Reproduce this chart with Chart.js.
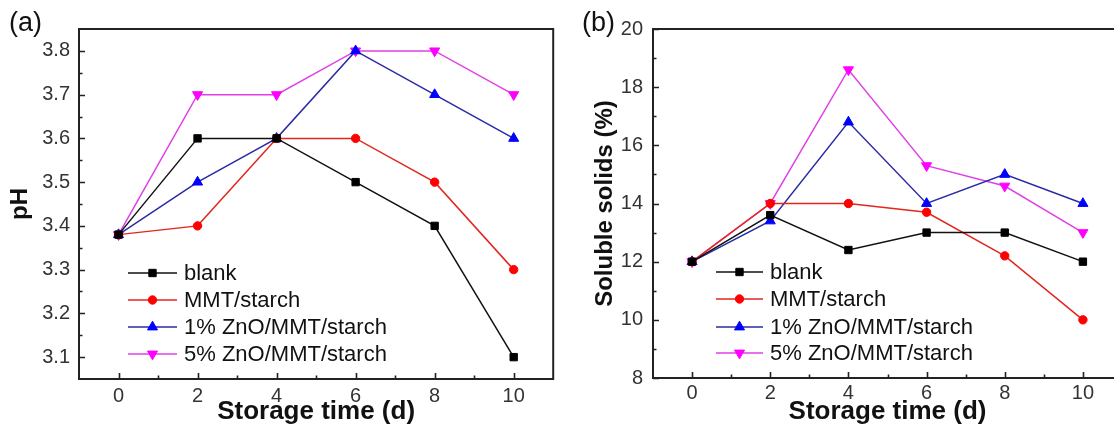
<!DOCTYPE html>
<html>
<head>
<meta charset="utf-8">
<script src="https://cdn.jsdelivr.net/npm/chart.js@4.4.1/dist/chart.umd.min.js"></script>
<style>
  html, body { margin: 0; padding: 0; background: #fff; overflow: hidden; }
  #wrap { position: relative; width: 1114px; height: 428px; overflow: hidden; }
  .panel { position: absolute; top: 0; height: 428px; }
  #pa { left: 0; width: 560px; }
  #pb { left: 560px; width: 600px; }
  .lab { position: absolute; top: 5px; font-family: "Liberation Sans", Arial, sans-serif; font-size: 27px; color: #111; line-height: 34px; }
</style>
</head>
<body>
<div id="wrap">
  <div class="panel" id="pa"><canvas id="ca"></canvas></div>
  <div class="panel" id="pb"><canvas id="cb"></canvas></div>
  <div class="lab" style="left:9px;">(a)</div>
  <div class="lab" style="left:582px;">(b)</div>
</div>
<script>
// ---------- data ----------
const days = [0, 2, 4, 6, 8, 10];
const seriesNames = ['blank', 'MMT/starch', '1% ZnO/MMT/starch', '5% ZnO/MMT/starch'];

const phBlank = [3.38, 3.6, 3.6, 3.5, 3.4, 3.1];
const phMMT   = [3.38, 3.4, 3.6, 3.6, 3.5, 3.3];
const phZnO1  = [3.38, 3.5, 3.6, 3.8, 3.7, 3.6];
const phZnO5  = [3.38, 3.7, 3.7, 3.8, 3.8, 3.7];

const ssBlank = [12, 13.6, 12.4, 13, 13, 12];
const ssMMT   = [12, 14, 14, 13.7, 12.2, 10];
const ssZnO1  = [12, 13.4, 16.8, 14, 15, 14];
const ssZnO5  = [12, 14, 18.6, 15.3, 14.6, 13];

const xTicks = [0, 2, 4, 6, 8, 10];
const xMinor = [1, 3, 5, 7, 9];
const phTicks = [3.1, 3.2, 3.3, 3.4, 3.5, 3.6, 3.7, 3.8];
const phMinor = [3.15, 3.25, 3.35, 3.45, 3.55, 3.65, 3.75];
const ssTicks = [8, 10, 12, 14, 16, 18, 20];
const ssMinor = [9, 11, 13, 15, 17, 19];

// ---------- styles ----------
const FONT = '"Liberation Sans", Arial, sans-serif';
const styles = [
  { line: '#111111', fill: '#000000', pointStyle: 'rect', radius: 5.2, rotation: 0 },
  { line: '#e3261e', fill: '#ff0000', pointStyle: 'circle', radius: 4.2, rotation: 0 },
  { line: '#2a2aa6', fill: '#0000ff', pointStyle: 'triangle', radius: 5.8, rotation: 0 },
  { line: '#e040e6', fill: '#ff00ff', pointStyle: 'triangle', radius: 5.8, rotation: 180 }
];

function makeDatasets(arrs) {
  return arrs.map((vals, i) => ({
    label: seriesNames[i],
    data: days.map((d, k) => ({ x: d, y: vals[k] })),
    borderColor: styles[i].line,
    backgroundColor: styles[i].fill,
    pointBackgroundColor: styles[i].fill,
    pointBorderColor: styles[i].fill,
    pointStyle: styles[i].pointStyle,
    pointRadius: styles[i].radius,
    pointRotation: styles[i].rotation,
    pointBorderWidth: 1,
    borderWidth: 1.5,
    tension: 0,
    clip: false
  }));
}

const framePlugin = {
  id: 'frame',
  afterDraw(chart, args, o) {
    const { ctx, chartArea: a } = chart;
    const xs = chart.scales.x, ys = chart.scales.y;
    ctx.save();
    // box
    ctx.strokeStyle = '#222';
    ctx.lineWidth = 2;
    ctx.strokeRect(a.left, a.top, a.right - a.left, a.bottom - a.top);
    // inward ticks
    ctx.lineWidth = 1.6;
    ctx.beginPath();
    o.xMajor.forEach(v => { const p = Math.round(xs.getPixelForValue(v)) + 0.5; ctx.moveTo(p, a.bottom); ctx.lineTo(p, a.bottom - 6); });
    o.xMinor.forEach(v => { const p = Math.round(xs.getPixelForValue(v)) + 0.5; ctx.moveTo(p, a.bottom); ctx.lineTo(p, a.bottom - 3.5); });
    o.yMajor.forEach(v => { const p = Math.round(ys.getPixelForValue(v)) + 0.5; ctx.moveTo(a.left, p); ctx.lineTo(a.left + 6, p); });
    o.yMinor.forEach(v => { const p = Math.round(ys.getPixelForValue(v)) + 0.5; ctx.moveTo(a.left, p); ctx.lineTo(a.left + 3.5, p); });
    ctx.stroke();
    // legend
    ctx.font = '22px ' + FONT;
    ctx.textBaseline = 'middle';
    ctx.textAlign = 'left';
    chart.data.datasets.forEach((ds, i) => {
      const y = a.top + o.legRows[i];
      const x0 = a.left + o.legX0, x1 = a.left + o.legX1;
      ctx.strokeStyle = ds.borderColor;
      ctx.lineWidth = 1.6;
      ctx.beginPath(); ctx.moveTo(x0, y); ctx.lineTo(x1, y); ctx.stroke();
      ctx.fillStyle = ds.pointBackgroundColor;
      ctx.strokeStyle = ds.pointBorderColor;
      ctx.lineWidth = 1;
      Chart.helpers.drawPoint(ctx, { pointStyle: ds.pointStyle, radius: ds.pointRadius, rotation: ds.pointRotation, borderWidth: 1 }, (x0 + x1) / 2, y);
      ctx.fillStyle = '#111';
      ctx.fillText(ds.label, x1 + 7, y + 1);
    });
    ctx.restore();
  }
};

function makeChart(canvasId, arrs, yMin, yMax, yTicks, yMinor, yTitle, cfg) {
  return new Chart(document.getElementById(canvasId), {
    type: 'line',
    data: { datasets: makeDatasets(arrs) },
    options: {
      responsive: true,
      maintainAspectRatio: false,
      animation: false,
      events: [],
      layout: { padding: { left: 0, top: 29, right: cfg.padRight, bottom: 0 } },
      plugins: {
        legend: { display: false },
        tooltip: { enabled: false },
        frame: { xMajor: xTicks, xMinor: xMinor, yMajor: yTicks, yMinor: yMinor,
                 legRows: cfg.legRows, legX0: cfg.legX0, legX1: cfg.legX1 }
      },
      scales: {
        x: {
          type: 'linear', min: -1, max: 11,
          afterBuildTicks: s => { s.ticks = xTicks.map(v => ({ value: v })); },
          afterFit: s => { s.height = cfg.xHeight; },
          grid: { display: false, drawTicks: false },
          border: { display: false },
          ticks: { color: '#333', font: { family: FONT, size: 20 }, padding: cfg.xTickPad, maxRotation: 0, autoSkip: false },
          title: { display: true, text: 'Storage time (d)', color: '#111', font: { family: FONT, size: 26, weight: 'bold' }, padding: { top: 0, bottom: 1 } }
        },
        y: {
          type: 'linear', min: yMin, max: yMax,
          afterBuildTicks: s => { s.ticks = yTicks.map(v => ({ value: v })); },
          afterFit: s => { s.width = cfg.yWidth; },
          grid: { display: false, drawTicks: false },
          border: { display: false },
          ticks: { color: '#333', font: { family: FONT, size: 20 }, padding: cfg.yTickPad, autoSkip: false,
                   callback: v => cfg.fmt(v) },
          title: { display: true, text: yTitle, color: '#111', font: { family: FONT, size: 24, weight: 'bold' }, padding: { top: cfg.yTitlePad, bottom: 0 } }
        }
      }
    },
    plugins: [framePlugin]
  });
}

makeChart('ca', [phBlank, phMMT, phZnO1, phZnO5], 3.05, 3.85, phTicks, phMinor, 'pH', {
  padRight: 6, xHeight: 49, yWidth: 79, xTickPad: 5, yTickPad: 9, yTitlePad: 6,
  legRows: [244, 271, 298, 325], legX0: 49, legX1: 98,
  fmt: v => v.toFixed(1)
});

makeChart('cb', [ssBlank, ssMMT, ssZnO1, ssZnO5], 8, 20, ssTicks, ssMinor, 'Soluble solids (%)', {
  padRight: 38, xHeight: 50, yWidth: 93, xTickPad: 3, yTickPad: 10, yTitlePad: 31,
  legRows: [243, 270, 298, 324], legX0: 63, legX1: 110,
  fmt: v => String(v)
});
</script>
</body>
</html>
